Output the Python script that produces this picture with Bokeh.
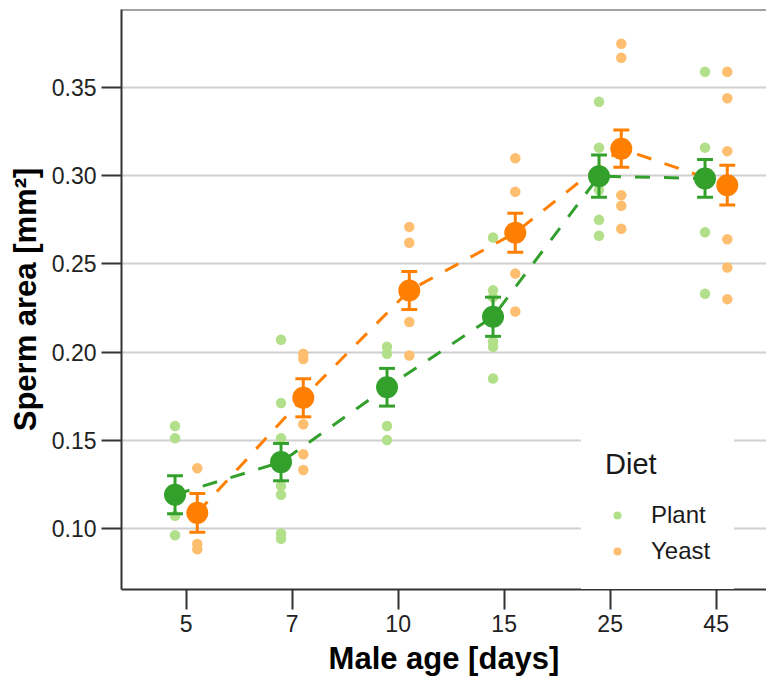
import numpy as np
from bokeh.plotting import figure
from bokeh.models import (Range1d, FixedTicker, Legend, LegendItem, Span,
                          NumeralTickFormatter)
from bokeh.embed import file_html
from bokeh.resources import INLINE

# ---------------- data ----------------
ages = ["5", "7", "10", "15", "25", "45"]
diets = ["Plant", "Yeast"]

plant_raw = [
    [0.158, 0.151, 0.107, 0.096],
    [0.207, 0.171, 0.151, 0.124, 0.119, 0.097, 0.094],
    [0.203, 0.199, 0.158, 0.150],
    [0.265, 0.235, 0.231, 0.206, 0.203, 0.185],
    [0.342, 0.316, 0.292, 0.275, 0.266],
    [0.359, 0.316, 0.268, 0.233],
]
yeast_raw = [
    [0.134, 0.091, 0.088],
    [0.199, 0.196, 0.159, 0.142, 0.133],
    [0.271, 0.262, 0.217, 0.198],
    [0.310, 0.291, 0.2445, 0.223],
    [0.375, 0.367, 0.289, 0.283, 0.270],
    [0.359, 0.344, 0.314, 0.264, 0.248, 0.230],
]
plant_mean = [0.1190, 0.1375, 0.1800, 0.2200, 0.2998, 0.2985]
plant_se = [0.0108, 0.0106, 0.0107, 0.0111, 0.0120, 0.0107]
yeast_mean = [0.1087, 0.1740, 0.2349, 0.2677, 0.3154, 0.2947]
yeast_se = [0.0110, 0.0108, 0.0108, 0.0111, 0.0106, 0.0113]

y_ticks = [0.10, 0.15, 0.20, 0.25, 0.30, 0.35]

# ---------------- styling ----------------
FONT = "Liberation Sans"
dark = {"Plant": "#33a02c", "Yeast": "#ff7f00"}
light = {"Plant": "#b2df8a", "Yeast": "#fdbf6f"}
dodge = {"Plant": -0.105, "Yeast": 0.105}
raw = {"Plant": plant_raw, "Yeast": yeast_raw}
means = {"Plant": plant_mean, "Yeast": yeast_mean}
ses = {"Plant": plant_se, "Yeast": yeast_se}

xpos = list(range(1, len(ages) + 1))
y0, y1 = 0.0652, 0.3944

p = figure(width=766, height=690, output_backend="svg", toolbar_location=None,
           x_range=Range1d(0.39, 6.475), y_range=Range1d(y0, y1),
           min_border_left=121, min_border_right=0, min_border_top=9,
           min_border_bottom=101)
p.outline_line_color = None
p.background_fill_color = "white"
p.border_fill_color = "white"

# axes
p.xaxis.ticker = FixedTicker(ticks=xpos)
p.xaxis.major_label_overrides = {x: a for x, a in zip(xpos, ages)}
p.yaxis.ticker = FixedTicker(ticks=y_ticks)
p.yaxis.formatter = NumeralTickFormatter(format="0.00")
p.xaxis.axis_label = "Male age [days]"
p.yaxis.axis_label = "Sperm area [mm²]"
for ax in (p.xaxis, p.yaxis):
    ax.axis_line_width = 2
    ax.axis_line_color = "#333333"
    ax.major_tick_line_width = 2
    ax.major_tick_line_color = "#333333"
    ax.major_tick_out = 20
    ax.major_tick_in = 0
    ax.minor_tick_line_color = None
    ax.major_label_text_font = FONT
    ax.major_label_text_font_size = "23px"
    ax.major_label_text_color = "#222222"
    ax.major_label_standoff = 5
    ax.axis_label_text_font = FONT
    ax.axis_label_text_font_size = "31px"
    ax.axis_label_text_font_style = "bold"
    ax.axis_label_text_color = "black"
    ax.axis_label_standoff = 6

p.xgrid.grid_line_color = None
p.ygrid.ticker = FixedTicker(ticks=y_ticks)
p.ygrid.grid_line_color = "#d0d0d0"
p.ygrid.grid_line_width = 2

p.add_layout(Span(location=y1, dimension="width", line_color="#444444",
                  line_width=2))

# raw points
raw_renderers = {}
for d in diets:
    xs, ys = [], []
    for i, vals in enumerate(raw[d]):
        xs += [xpos[i] + dodge[d]] * len(vals)
        ys += vals
    raw_renderers[d] = p.scatter(xs, ys, size=10.5, color=light[d],
                                 line_color=None)

# dashed lines through means
for d in diets:
    xd = [x + dodge[d] for x in xpos]
    p.line(xd, means[d], line_color=dark[d], line_width=3,
           line_dash="15 14")

# error bars
cap = 0.075
for d in diets:
    xd = np.array([x + dodge[d] for x in xpos])
    m = np.array(means[d])
    s = np.array(ses[d])
    p.segment(xd, m - s, xd, m + s, line_color=dark[d], line_width=3)
    p.segment(xd - cap, m + s, xd + cap, m + s, line_color=dark[d], line_width=3)
    p.segment(xd - cap, m - s, xd + cap, m - s, line_color=dark[d], line_width=3)

# means
for d in diets:
    xd = [x + dodge[d] for x in xpos]
    p.scatter(xd, means[d], size=22, color=dark[d], line_color=None)

legend = Legend(items=[LegendItem(label=d, renderers=[raw_renderers[d]]) for d in diets],
                title="Diet", location=(460, 0))
legend.title_text_font = FONT
legend.title_text_font_size = "29px"
legend.title_text_font_style = "normal"
legend.title_text_color = "#1a1a1a"
legend.title_standoff = 20
legend.label_text_font = FONT
legend.label_text_font_size = "24px"
legend.label_text_color = "#1a1a1a"
legend.background_fill_color = "white"
legend.background_fill_alpha = 1.0
legend.border_line_color = "white"
legend.border_line_width = 1
legend.padding = 23
legend.glyph_width = 24
legend.label_standoff = 22
legend.spacing = 8
legend.margin = 0
p.add_layout(legend)

open("out.html", "w").write(file_html(p, INLINE))
